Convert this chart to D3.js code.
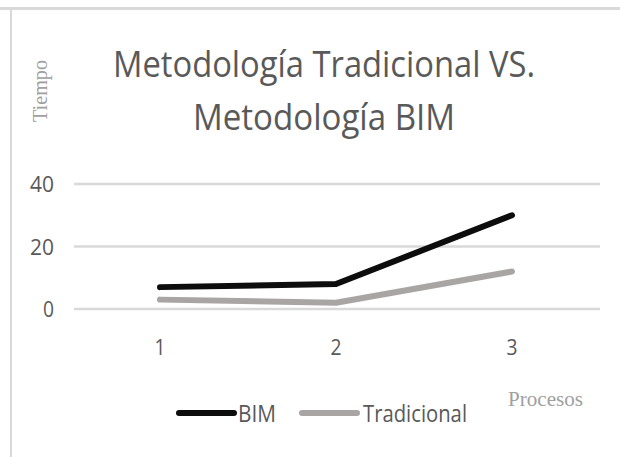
<!DOCTYPE html>
<html>
<head>
<meta charset="utf-8">
<script src="https://cdn.jsdelivr.net/npm/d3@7"></script>
<style>
  body { margin: 0; background: #fff; }
  svg { display: block; }
</style>
</head>
<body>
<div id="chart"></div>
<script>
// data
const procesos = ["1", "2", "3"];
const bim = [7, 8, 30];
const tradicional = [3, 2, 12];
const yTicks = [0, 20, 40];

const width = 620, height = 457;
const margin = { top: 184, right: 20, bottom: 148, left: 74 };

const svg = d3.select("#chart").append("svg")
    .attr("width", width)
    .attr("height", height);

// frame lines at top and left
svg.append("line")
    .attr("x1", 0).attr("x2", width)
    .attr("y1", 8.5).attr("y2", 8.5)
    .attr("stroke", "#d9d9d9").attr("stroke-width", 3);
svg.append("line")
    .attr("x1", 11).attr("x2", 11)
    .attr("y1", 8).attr("y2", height)
    .attr("stroke", "#d9d9d9").attr("stroke-width", 2);

const x = d3.scaleBand()
    .domain(procesos)
    .range([margin.left - 2, width - margin.right]);

const y = d3.scaleLinear()
    .domain([0, 40])
    .range([309, 184]);

const sansFont = "'Open Sans', 'Liberation Sans', sans-serif";
const serifFont = "'Liberation Serif', 'DejaVu Serif', serif";

// title
const titleLines = ["Metodología Tradicional VS.", "Metodología BIM"];
const titleWidths = [422, 262];
svg.selectAll(".title")
    .data(titleLines)
    .enter().append("text")
    .attr("class", "title")
    .attr("x", 324)
    .attr("y", (d, i) => 77 + i * 53)
    .attr("text-anchor", "middle")
    .attr("textLength", (d, i) => titleWidths[i])
    .attr("lengthAdjust", "spacingAndGlyphs")
    .style("font-family", sansFont)
    .style("font-size", "36px")
    .style("fill", "#595959")
    .text(d => d);

// gridlines
svg.selectAll(".grid")
    .data(yTicks)
    .enter().append("line")
    .attr("class", "grid")
    .attr("x1", 74).attr("x2", 600)
    .attr("y1", d => y(d)).attr("y2", d => y(d))
    .attr("stroke", "#d9d9d9").attr("stroke-width", 2.5);

// y axis labels
const yAxis = svg.append("g")
    .attr("transform", "translate(54,0)")
    .call(d3.axisLeft(y).tickValues(yTicks).tickSize(0).tickPadding(0));
yAxis.select(".domain").remove();
yAxis.selectAll("text")
    .attr("x", 0)
    .attr("dy", "0.35em")
    .attr("text-anchor", "end")
    .attr("textLength", d => d === 0 ? 11 : 24)
    .attr("lengthAdjust", "spacingAndGlyphs")
    .style("font-family", sansFont)
    .style("font-size", "22px")
    .style("fill", "#595959");

// x axis labels
const xAxis = svg.append("g")
    .attr("transform", "translate(0,339)")
    .call(d3.axisBottom(x).tickSize(0).tickPadding(0));
xAxis.select(".domain").remove();
xAxis.selectAll("text")
    .attr("dy", "0.71em")
    .attr("textLength", 11)
    .attr("lengthAdjust", "spacingAndGlyphs")
    .style("font-family", sansFont)
    .style("font-size", "22px")
    .style("fill", "#595959");

// lines
const line = d3.line()
    .x((d, i) => x(procesos[i]) + x.bandwidth() / 2)
    .y(d => y(d));

const series = [
    { name: "BIM", values: bim, color: "#0d0d0d" },
    { name: "Tradicional", values: tradicional, color: "#a9a5a5" }
];

// draw tradicional first so BIM sits above
series.slice().reverse().forEach(s => {
    svg.append("path")
        .datum(s.values)
        .attr("fill", "none")
        .attr("stroke", s.color)
        .attr("stroke-width", 6)
        .attr("stroke-linecap", "round")
        .attr("stroke-linejoin", "round")
        .attr("d", line);
});

// axis titles
svg.append("text")
    .attr("transform", "translate(47,91) rotate(-90)")
    .attr("text-anchor", "middle")
    .attr("textLength", 62)
    .attr("lengthAdjust", "spacingAndGlyphs")
    .style("font-family", serifFont)
    .style("font-size", "21px")
    .style("fill", "#a0a0a0")
    .text("Tiempo");

svg.append("text")
    .attr("x", 508)
    .attr("y", 406)
    .attr("textLength", 75)
    .attr("lengthAdjust", "spacingAndGlyphs")
    .style("font-family", serifFont)
    .style("font-size", "20px")
    .style("fill", "#a0a0a0")
    .text("Procesos");

// legend
const legendX = [179, 302];
const legendTextW = [38, 104];
const legend = svg.selectAll(".legend")
    .data(series)
    .enter().append("g")
    .attr("class", "legend")
    .attr("transform", (d, i) => "translate(" + legendX[i] + ",413)");

legend.append("line")
    .attr("x1", 0).attr("x2", 55)
    .attr("y1", 0).attr("y2", 0)
    .attr("stroke", d => d.color)
    .attr("stroke-width", 6)
    .attr("stroke-linecap", "round");

legend.append("text")
    .attr("x", (d, i) => i === 0 ? 59 : 61)
    .attr("y", 9)
    .attr("textLength", (d, i) => legendTextW[i])
    .attr("lengthAdjust", "spacingAndGlyphs")
    .style("font-family", sansFont)
    .style("font-size", "24px")
    .style("fill", "#595959")
    .text(d => d.name);
</script>
</body>
</html>
